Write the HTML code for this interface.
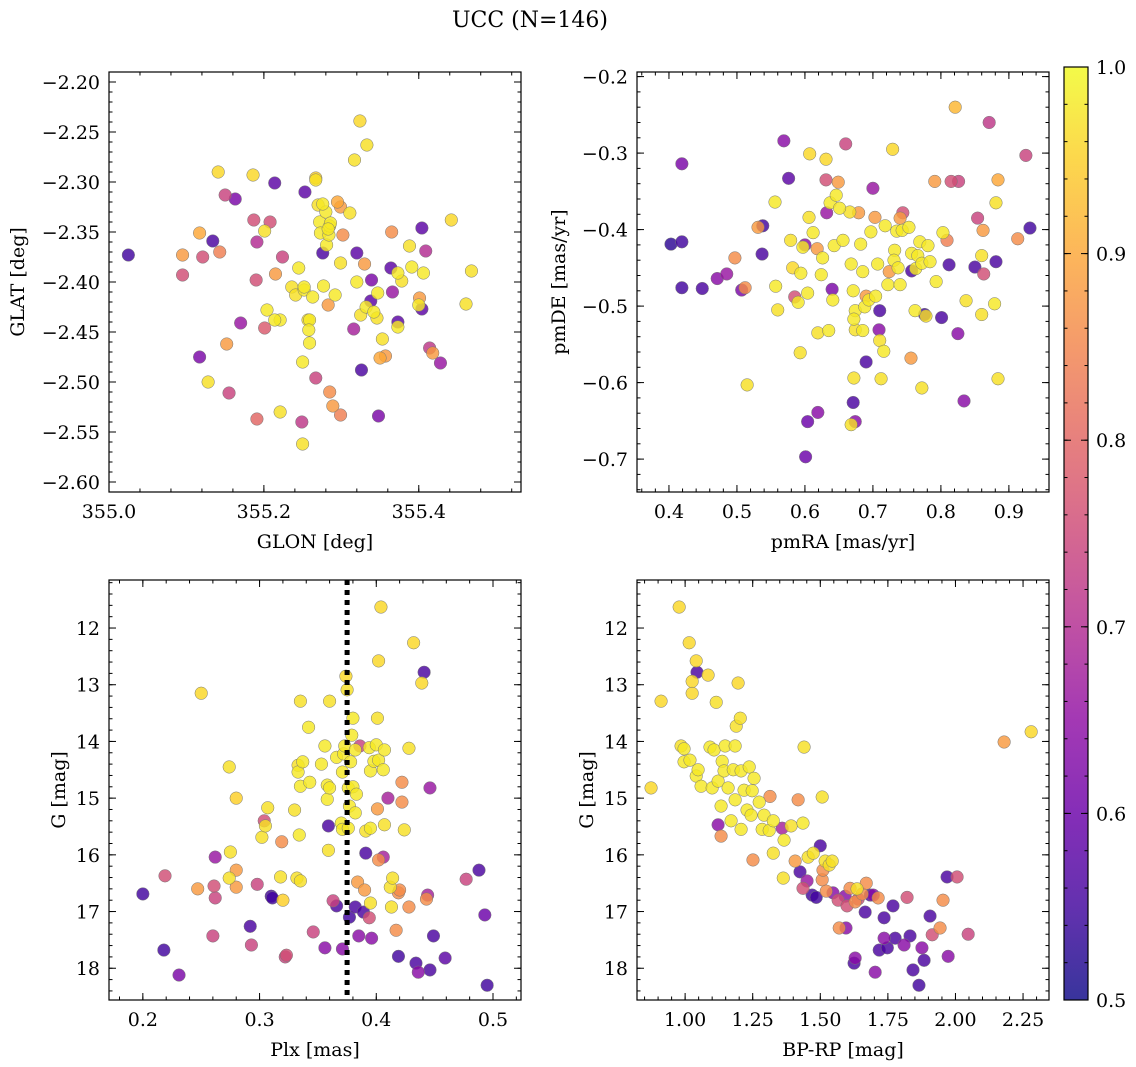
<!DOCTYPE html>
<html><head><meta charset="utf-8">
<style>
html,body{margin:0;padding:0;background:#fff;}
svg{display:block;font-family:"DejaVu Serif","Liberation Serif",serif;}
</style></head>
<body>
<svg id="fig" width="1136" height="1067" viewBox="0 0 1136 1067" xmlns="http://www.w3.org/2000/svg">
<text x="530" y="27" text-anchor="middle" font-size="22">UCC (N=146)</text>
</svg>
<script>
const p1Points = [[355.025,-2.373,.55],[355.095,-2.373,.88],[355.095,-2.393,.76],[355.141,-2.290,.96],[355.150,-2.313,.74],[355.163,-2.317,.62],[355.134,-2.359,.56],[355.117,-2.351,.9],[355.121,-2.375,.76],[355.143,-2.370,.84],[355.117,-2.475,.62],[355.128,-2.500,.97],[355.152,-2.462,.88],[355.155,-2.511,.74],[355.170,-2.441,.66],[355.186,-2.293,.96],[355.187,-2.338,.76],[355.191,-2.360,.7],[355.201,-2.349,.97],[355.208,-2.340,.76],[355.214,-2.301,.58],[355.215,-2.392,.88],[355.190,-2.398,.76],[355.204,-2.428,.98],[355.221,-2.438,.98],[355.201,-2.446,.78],[355.214,-2.438,.98],[355.191,-2.537,.8],[355.221,-2.530,.97],[355.224,-2.375,.74],[355.236,-2.405,.97],[355.245,-2.386,.98],[355.241,-2.413,.97],[355.252,-2.408,.98],[355.259,-2.438,.98],[355.263,-2.415,.98],[355.253,-2.310,.58],[355.270,-2.323,.97],[355.267,-2.296,.95],[355.272,-2.340,.98],[355.273,-2.351,.98],[355.276,-2.371,.56],[355.281,-2.363,.98],[355.284,-2.353,.98],[355.285,-2.344,.98],[355.280,-2.330,.98],[355.295,-2.320,.9],[355.250,-2.480,.98],[355.252,-2.405,.98],[355.257,-2.438,.97],[355.258,-2.448,.98],[355.259,-2.461,.98],[355.267,-2.496,.74],[355.249,-2.540,.72],[355.250,-2.562,.97],[355.289,-2.524,.88],[355.285,-2.510,.86],[355.299,-2.533,.84],[355.299,-2.381,.97],[355.286,-2.341,.98],[355.283,-2.347,.98],[355.276,-2.322,.98],[355.267,-2.298,.97],[355.283,-2.423,.88],[355.299,-2.325,.88],[355.302,-2.353,.86],[355.311,-2.331,.97],[355.317,-2.278,.97],[355.324,-2.239,.96],[355.333,-2.263,.97],[355.320,-2.371,.58],[355.330,-2.382,.88],[355.320,-2.400,.98],[355.339,-2.398,.62],[355.332,-2.425,.98],[355.325,-2.433,.97],[355.316,-2.447,.68],[355.326,-2.488,.56],[355.338,-2.419,.58],[355.342,-2.430,.98],[355.346,-2.436,.97],[355.353,-2.457,.97],[355.350,-2.476,.9],[355.348,-2.534,.62],[355.357,-2.474,.88],[355.364,-2.386,.58],[355.365,-2.350,.86],[355.373,-2.391,.98],[355.378,-2.399,.97],[355.388,-2.364,.97],[355.366,-2.410,.66],[355.391,-2.385,.98],[355.373,-2.440,.58],[355.373,-2.445,.98],[355.400,-2.423,.98],[355.404,-2.346,.58],[355.406,-2.391,.98],[355.409,-2.369,.7],[355.401,-2.416,.88],[355.404,-2.427,.58],[355.418,-2.471,.88],[355.414,-2.466,.72],[355.428,-2.481,.66],[355.442,-2.338,.96],[355.461,-2.422,.97],[355.468,-2.389,.97],[355.347,-2.411,.98],[355.292,-2.413,.98],[355.277,-2.404,.98]];
const p2Points = [[0.403,-0.419,.53],[0.419,-0.416,.55],[0.419,-0.314,.62],[0.419,-0.476,.55],[0.449,-0.477,.56],[0.471,-0.464,.64],[0.485,-0.458,.66],[0.497,-0.437,.86],[0.507,-0.479,.62],[0.512,-0.476,.86],[0.515,-0.603,.97],[0.531,-0.397,.88],[0.538,-0.395,.55],[0.537,-0.432,.56],[0.557,-0.474,.98],[0.556,-0.364,.98],[0.560,-0.505,.97],[0.569,-0.284,.64],[0.576,-0.333,.58],[0.579,-0.414,.97],[0.582,-0.450,.96],[0.590,-0.495,.98],[0.585,-0.488,.76],[0.593,-0.561,.97],[0.594,-0.457,.98],[0.597,-0.423,.98],[0.600,-0.420,.64],[0.604,-0.483,.98],[0.604,-0.651,.6],[0.601,-0.697,.6],[0.607,-0.301,.96],[0.606,-0.384,.97],[0.612,-0.404,.98],[0.618,-0.425,.88],[0.619,-0.535,.97],[0.619,-0.639,.64],[0.624,-0.459,.98],[0.626,-0.437,.98],[0.631,-0.308,.96],[0.631,-0.335,.76],[0.632,-0.378,.66],[0.637,-0.365,.98],[0.640,-0.478,.62],[0.635,-0.532,.98],[0.641,-0.492,.98],[0.643,-0.421,.98],[0.646,-0.355,.98],[0.649,-0.338,.88],[0.651,-0.372,.98],[0.656,-0.414,.98],[0.660,-0.288,.74],[0.666,-0.377,.97],[0.668,-0.445,.98],[0.671,-0.480,.98],[0.674,-0.506,.98],[0.672,-0.517,.98],[0.674,-0.531,.97],[0.672,-0.594,.97],[0.668,-0.655,.97],[0.671,-0.626,.56],[0.674,-0.651,.64],[0.679,-0.378,.88],[0.682,-0.419,.98],[0.685,-0.455,.98],[0.690,-0.487,.88],[0.688,-0.501,.98],[0.685,-0.532,.98],[0.690,-0.573,.56],[0.694,-0.492,.98],[0.697,-0.403,.98],[0.703,-0.384,.88],[0.707,-0.445,.98],[0.704,-0.487,.98],[0.700,-0.346,.66],[0.710,-0.506,.56],[0.709,-0.531,.64],[0.710,-0.545,.97],[0.712,-0.595,.97],[0.718,-0.395,.98],[0.724,-0.455,.88],[0.722,-0.472,.98],[0.716,-0.559,.98],[0.729,-0.295,.96],[0.732,-0.427,.98],[0.731,-0.440,.98],[0.735,-0.402,.98],[0.737,-0.450,.98],[0.740,-0.472,.98],[0.740,-0.385,.88],[0.743,-0.401,.98],[0.744,-0.378,.76],[0.753,-0.397,.98],[0.757,-0.431,.98],[0.757,-0.454,.56],[0.763,-0.451,.98],[0.766,-0.434,.98],[0.756,-0.568,.88],[0.772,-0.444,.98],[0.769,-0.416,.98],[0.762,-0.506,.98],[0.776,-0.511,.55],[0.781,-0.421,.98],[0.778,-0.513,.97],[0.791,-0.337,.88],[0.784,-0.442,.98],[0.793,-0.468,.98],[0.772,-0.607,.97],[0.803,-0.404,.98],[0.801,-0.515,.56],[0.809,-0.414,.84],[0.815,-0.337,.76],[0.812,-0.446,.56],[0.821,-0.240,.92],[0.826,-0.337,.74],[0.825,-0.536,.64],[0.834,-0.624,.64],[0.837,-0.493,.97],[0.850,-0.449,.56],[0.854,-0.385,.74],[0.862,-0.401,.88],[0.860,-0.434,.97],[0.860,-0.511,.97],[0.863,-0.458,.76],[0.871,-0.260,.72],[0.879,-0.497,.98],[0.881,-0.442,.56],[0.881,-0.365,.97],[0.884,-0.335,.9],[0.884,-0.595,.97],[0.913,-0.412,.86],[0.925,-0.303,.74],[0.931,-0.398,.55]];
const p3Points = [[0.200,16.69,.55],[0.218,17.68,.55],[0.219,16.37,.76],[0.231,18.12,.62],[0.247,16.60,.88],[0.250,13.15,.96],[0.261,16.55,.76],[0.262,16.04,.66],[0.262,16.76,.74],[0.260,17.43,.74],[0.274,16.41,.97],[0.274,14.45,.97],[0.275,15.95,.97],[0.280,15.00,.95],[0.280,16.27,.88],[0.280,16.57,.88],[0.292,17.26,.56],[0.293,17.59,.74],[0.298,16.52,.74],[0.302,15.69,.97],[0.304,15.40,.76],[0.305,15.49,.97],[0.307,15.17,.97],[0.310,16.73,.55],[0.311,16.76,.55],[0.318,16.39,.97],[0.320,16.80,.95],[0.319,15.77,.86],[0.322,17.80,.74],[0.323,17.77,.76],[0.330,15.21,.97],[0.333,14.42,.97],[0.333,14.54,.98],[0.332,16.41,.97],[0.334,15.65,.98],[0.335,14.79,.98],[0.335,16.46,.97],[0.335,13.29,.97],[0.337,14.36,.98],[0.342,13.75,.98],[0.343,14.72,.98],[0.346,17.36,.74],[0.353,14.40,.98],[0.356,17.64,.64],[0.356,14.08,.98],[0.358,15.02,.98],[0.358,14.77,.98],[0.359,15.92,.97],[0.359,15.49,.56],[0.360,14.82,.98],[0.363,16.81,.74],[0.360,13.29,.97],[0.366,16.90,.56],[0.366,14.28,.98],[0.370,15.44,.98],[0.371,15.55,.98],[0.371,17.66,.64],[0.371,14.54,.98],[0.372,14.22,.98],[0.373,14.08,.98],[0.374,12.85,.96],[0.375,13.09,.97],[0.376,15.53,.98],[0.376,14.82,.98],[0.377,15.14,.98],[0.377,17.10,.55],[0.378,14.36,.98],[0.379,13.89,.98],[0.380,13.59,.98],[0.380,14.80,.98],[0.382,16.92,.56],[0.382,14.15,.98],[0.383,14.93,.98],[0.384,16.48,.88],[0.386,14.08,.74],[0.385,17.43,.64],[0.389,17.01,.56],[0.391,15.97,.56],[0.390,16.62,.88],[0.394,17.11,.76],[0.391,15.58,.97],[0.394,14.11,.98],[0.395,14.52,.98],[0.395,15.53,.98],[0.395,16.85,.97],[0.396,17.47,.64],[0.398,14.35,.98],[0.400,14.06,.98],[0.401,13.59,.97],[0.401,15.19,.88],[0.402,16.09,.86],[0.402,12.58,.96],[0.404,11.63,.96],[0.402,14.33,.98],[0.406,14.50,.98],[0.407,14.15,.98],[0.406,16.04,.68],[0.407,15.47,.97],[0.410,15.00,.68],[0.412,16.57,.97],[0.413,16.92,.97],[0.414,16.41,.97],[0.417,17.33,.86],[0.419,17.79,.55],[0.419,16.67,.86],[0.420,16.62,.86],[0.422,14.72,.86],[0.422,15.07,.86],[0.424,15.56,.97],[0.428,14.12,.97],[0.428,16.92,.86],[0.432,12.26,.96],[0.434,17.91,.56],[0.436,18.07,.64],[0.439,12.97,.96],[0.441,12.78,.56],[0.443,16.78,.86],[0.444,16.71,.68],[0.446,14.82,.66],[0.446,18.03,.56],[0.449,17.43,.56],[0.459,17.82,.58],[0.477,16.43,.74],[0.488,16.27,.56],[0.493,17.06,.6],[0.495,18.30,.55],[0.382,15.26,.98]];
const p4Points = [[0.874,14.82,.96],[0.911,13.29,.96],[0.978,11.63,.96],[0.985,14.08,.97],[0.996,14.36,.98],[0.996,14.13,.98],[1.015,12.26,.96],[1.018,14.33,.98],[1.026,13.15,.96],[1.026,12.94,.96],[1.041,12.58,.96],[1.044,12.78,.56],[1.041,14.61,.98],[1.048,14.50,.98],[1.059,14.79,.98],[1.085,12.83,.96],[1.092,14.10,.98],[1.100,14.82,.98],[1.107,14.15,.98],[1.115,13.31,.97],[1.122,14.70,.98],[1.122,15.47,.64],[1.133,15.67,.86],[1.133,15.14,.98],[1.137,14.35,.98],[1.148,14.08,.98],[1.144,14.52,.98],[1.159,14.82,.98],[1.170,15.40,.98],[1.178,14.50,.98],[1.185,15.03,.98],[1.185,14.08,.98],[1.189,13.73,.97],[1.196,12.97,.96],[1.204,13.59,.97],[1.207,15.55,.98],[1.207,14.52,.98],[1.218,14.86,.98],[1.229,15.21,.98],[1.237,14.45,.98],[1.244,15.30,.98],[1.248,14.87,.98],[1.251,16.09,.86],[1.255,14.65,.98],[1.274,15.07,.98],[1.285,15.55,.98],[1.292,15.30,.98],[1.311,15.57,.98],[1.314,14.97,.86],[1.326,15.40,.98],[1.326,15.97,.97],[1.359,15.53,.68],[1.363,16.41,.97],[1.366,15.74,.98],[1.392,15.49,.97],[1.407,16.11,.88],[1.418,15.03,.86],[1.425,16.30,.56],[1.436,15.44,.98],[1.436,16.59,.76],[1.451,16.46,.66],[1.440,14.10,.97],[1.455,16.04,.97],[1.470,16.71,.55],[1.474,15.97,.97],[1.485,16.75,.55],[1.500,15.84,.56],[1.507,14.98,.97],[1.507,16.44,.86],[1.510,16.27,.86],[1.518,16.11,.97],[1.522,16.64,.86],[1.533,16.18,.97],[1.544,16.11,.97],[1.547,16.67,.64],[1.566,16.80,.76],[1.570,17.29,.86],[1.592,16.73,.64],[1.595,17.29,.64],[1.599,16.90,.76],[1.610,16.59,.86],[1.629,16.83,.86],[1.629,17.82,.64],[1.625,17.91,.56],[1.636,16.60,.97],[1.640,16.78,.76],[1.655,16.69,.86],[1.666,17.01,.56],[1.670,16.50,.86],[1.685,16.71,.56],[1.696,16.71,.64],[1.703,18.07,.64],[1.714,16.76,.86],[1.718,17.68,.56],[1.736,17.11,.56],[1.748,17.64,.56],[1.736,17.47,.64],[1.769,16.90,.56],[1.777,17.47,.56],[1.810,17.59,.64],[1.821,16.75,.76],[1.832,17.43,.56],[1.843,18.03,.56],[1.865,18.30,.55],[1.876,17.64,.64],[1.884,17.86,.56],[1.906,17.08,.56],[1.914,17.41,.76],[1.943,17.29,.86],[1.954,16.80,.86],[1.969,16.39,.56],[1.973,17.79,.64],[2.006,16.39,.76],[2.047,17.40,.74],[2.180,14.01,.88],[2.280,13.83,.96]];
const plxLine = 0.375;
const p1XTicks = [355.0,355.2,355.4];
const p1YTicks = [-2.20,-2.25,-2.30,-2.35,-2.40,-2.45,-2.50,-2.55,-2.60];
const p2XTicks = [0.4,0.5,0.6,0.7,0.8,0.9];
const p2YTicks = [-0.2,-0.3,-0.4,-0.5,-0.6,-0.7];
const p3XTicks = [0.2,0.3,0.4,0.5];
const gTicks = [12,13,14,15,16,17,18];
const p4XTicks = [1.00,1.25,1.50,1.75,2.00,2.25];
const cbTicks = [0.5,0.6,0.7,0.8,0.9,1.0];

const NS = "http://www.w3.org/2000/svg";
const svg = document.getElementById('fig');
const FS = 19;
function el(tag, attrs, parent){
  const e = document.createElementNS(NS, tag);
  for (const k in attrs) e.setAttribute(k, attrs[k]);
  (parent||svg).appendChild(e);
  return e;
}
const plasmaStops = ["#0d0887","#41049d","#6a00a8","#8f0da4","#b12a90","#cc4778","#e16462","#f2844b","#fca636","#fcce25","#f0f921"];
function hex(h){return [parseInt(h.substr(1,2),16),parseInt(h.substr(3,2),16),parseInt(h.substr(5,2),16)];}
function plasma(t){
  t=Math.max(0,Math.min(1,t)); const f=t*10; const i=Math.min(9,Math.floor(f)); const r=f-i;
  const a=hex(plasmaStops[i]), b=hex(plasmaStops[i+1]);
  return 'rgb('+a.map((v,k)=>Math.round(v+(b[k]-v)*r)).join(',')+')';
}
function cmap(p){return plasma((p-0.5)/0.5);}
function fmt(v,d){const s=Math.abs(v).toFixed(d); return (v<0?'\u2212':'')+s;}

function panel(cfg){
  const g = el('g',{});
  
  
  const {L,R,T,B} = cfg;
  const sx = v => L + (v-cfg.xd[0])/(cfg.xd[1]-cfg.xd[0])*(R-L);
  const sy = v => T + (v-cfg.yd[0])/(cfg.yd[1]-cfg.yd[0])*(B-T);
  const clip = el('clipPath',{id:cfg.name+'-clip'},g);
  el('rect',{x:L,y:T,width:R-L,height:B-T},clip);
  const pts = el('g',{'clip-path':'url(#'+cfg.name+'-clip)'},g);
  const sorted = cfg.data.slice().sort((a,b)=>a[2]-b[2]);
  sorted.forEach(d=>{
    const c = el('circle',{cx:sx(d[0]),cy:sy(d[1]),r:6.3,fill:cmap(d[2]),'fill-opacity':0.82,stroke:'#777','stroke-width':0.5},pts);
    
    
  });
  if (cfg.vline!==undefined){
    const ln = el('line',{x1:sx(cfg.vline),x2:sx(cfg.vline),y1:T,y2:B,stroke:'#000','stroke-width':5,'stroke-dasharray':'5,5'},pts);
    
    
  }
  const tk = el('g',{stroke:'#000','stroke-width':1},g);
  const xmin=Math.min(...cfg.xd), xmax=Math.max(...cfg.xd), ymin=Math.min(...cfg.yd), ymax=Math.max(...cfg.yd);
  for (let v=Math.ceil(xmin/cfg.xm-1e-6)*cfg.xm; v<=xmax+1e-9; v+=cfg.xm){
    const x=sx(v); el('line',{x1:x,x2:x,y1:B,y2:B-3.5},tk); el('line',{x1:x,x2:x,y1:T,y2:T+3.5},tk);
  }
  for (let v=Math.ceil(ymin/cfg.ym-1e-6)*cfg.ym; v<=ymax+1e-9; v+=cfg.ym){
    const y=sy(v); el('line',{x1:L,x2:L+3.5,y1:y,y2:y},tk); el('line',{x1:R,x2:R-3.5,y1:y,y2:y},tk);
  }
  cfg.xt.forEach(v=>{
    const x=sx(v); el('line',{x1:x,x2:x,y1:B,y2:B-7},tk); el('line',{x1:x,x2:x,y1:T,y2:T+7},tk);
    const t=el('text',{x:x,y:B+26,'text-anchor':'middle','font-size':FS},g); t.textContent=fmt(v,cfg.xdp);
    
    
  });
  cfg.yt.forEach(v=>{
    const y=sy(v); el('line',{x1:L,x2:L+7,y1:y,y2:y},tk); el('line',{x1:R,x2:R-7,y1:y,y2:y},tk);
    const t=el('text',{x:L-9,y:y+7,'text-anchor':'end','font-size':FS},g); t.textContent=fmt(v,cfg.ydp);
    
    
  });
  el('rect',{x:L,y:T,width:R-L,height:B-T,fill:'none',stroke:'#000','stroke-width':1.2},g);
  const xl=el('text',{x:(L+R)/2,y:B+56,'text-anchor':'middle','font-size':FS},g); xl.textContent=cfg.xlabel;
  
  
  const yl=el('text',{x:cfg.ylx,y:(T+B)/2,'text-anchor':'middle','font-size':FS,transform:'rotate(-90 '+cfg.ylx+' '+((T+B)/2)+')'},g); yl.textContent=cfg.ylabel;
  
  
}

panel({name:'glon-glat-panel',L:109,R:521,T:72,B:492,xd:[355.0,355.532],yd:[-2.19,-2.61],xt:p1XTicks,yt:p1YTicks,xm:0.04,ym:0.01,xdp:1,ydp:2,data:p1Points,xlabel:'GLON [deg]',ylabel:'GLAT [deg]',ylx:24});
panel({name:'pm-panel',L:637,R:1049,T:72,B:492,xd:[0.353,0.959],yd:[-0.194,-0.743],xt:p2XTicks,yt:p2YTicks,xm:0.02,ym:0.02,xdp:1,ydp:1,data:p2Points,xlabel:'pmRA [mas/yr]',ylabel:'pmDE [mas/yr]',ylx:565});
panel({name:'plx-g-panel',L:109,R:521,T:580,B:1000,xd:[0.171,0.524],yd:[11.153,18.56],xt:p3XTicks,yt:gTicks,xm:0.02,ym:0.2,xdp:1,ydp:0,data:p3Points,xlabel:'Plx [mas]',ylabel:'G [mag]',ylx:65,vline:plxLine});
panel({name:'cmd-panel',L:637,R:1049,T:580,B:1000,xd:[0.822,2.346],yd:[11.153,18.56],xt:p4XTicks,yt:gTicks,xm:0.05,ym:0.2,xdp:2,ydp:0,data:p4Points,xlabel:'BP-RP [mag]',ylabel:'G [mag]',ylx:593});

(function(){
  const g = el('g',{});
  
  
  const L=1064,R=1088,T=67,B=1000;
  const defs = el('defs',{},g);
  const lg = el('linearGradient',{id:'cbgrad',x1:0,y1:1,x2:0,y2:0},defs);
  for(let i=0;i<=20;i++){el('stop',{offset:(i/20),'stop-color':plasma(i/20),'stop-opacity':0.82},lg);}
  el('rect',{x:L,y:T,width:R-L,height:B-T,fill:'url(#cbgrad)'},g);
  const sy=v=>B-(v-0.5)/0.5*(B-T);
  for(let v=0.5; v<=1.0001; v+=0.02){const y=sy(v); el('line',{x1:R,x2:R-3.5,y1:y,y2:y,stroke:'#000'},g); el('line',{x1:L,x2:L+3.5,y1:y,y2:y,stroke:'#000'},g);}
  cbTicks.forEach(v=>{
    const y=sy(v); el('line',{x1:R,x2:R-7,y1:y,y2:y,stroke:'#000'},g); el('line',{x1:L,x2:L+7,y1:y,y2:y,stroke:'#000'},g);
    const t=el('text',{x:R+8,y:y+7,'font-size':FS},g); t.textContent=v.toFixed(1);
    
    
  });
  el('rect',{x:L,y:T,width:R-L,height:B-T,fill:'none',stroke:'#000','stroke-width':1.2},g);
})();
</script>
</body></html>
